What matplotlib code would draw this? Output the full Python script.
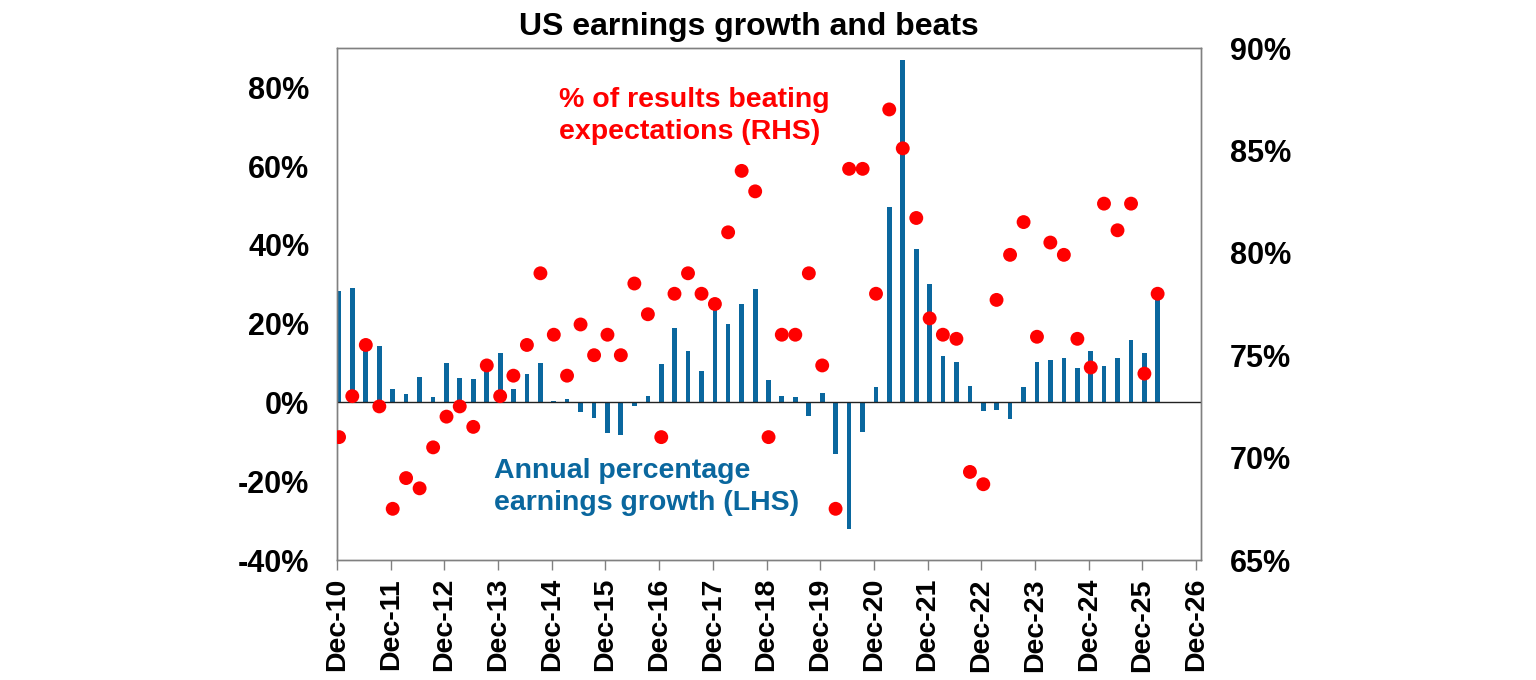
import matplotlib
matplotlib.use('Agg')
import matplotlib.pyplot as plt
import matplotlib.dates as mdates
import pandas as pd

plt.rcParams['font.family'] = ['Liberation Sans', 'DejaVu Sans']
plt.rcParams['font.weight'] = 'bold'

# quarterly data, Dec-10 to Mar-26 (plotted mid-month)
quarters = pd.date_range('2010-12-01', periods=62, freq='QS-DEC') + pd.Timedelta(days=14)

# annual % earnings growth (LHS)
growth = [28.4, 29.1, 15.0, 14.4, 3.5, 2.2, 6.4, 1.5, 10.1, 6.3,
          5.9, 8.0, 12.5, 3.5, 7.2, 10.1, 0.4, 0.9, -2.5, -4.0,
          -7.8, -8.2, -1.0, 1.6, 9.8, 19.0, 13.0, 8.0, 24.0, 19.8,
          25.0, 28.9, 5.8, 1.6, 1.5, -3.4, 2.5, -13.1, -32.1, -7.4,
          4.0, 49.7, 86.9, 38.9, 30.0, 11.7, 10.2, 4.2, -2.1, -1.9,
          -4.2, 3.9, 10.4, 10.7, 11.4, 8.8, 13.0, 9.3, 11.3, 15.8,
          12.5, 27.0]

# % of results beating expectations (RHS)
beats = [71.0, 73.0, 75.5, 72.5, 67.5, 69.0, 68.5, 70.5, 72.0, 72.5,
         71.5, 74.5, 73.0, 74.0, 75.5, 79.0, 76.0, 74.0, 76.5, 75.0,
         76.0, 75.0, 78.5, 77.0, 71.0, 78.0, 79.0, 78.0, 77.5, 81.0,
         84.0, 83.0, 71.0, 76.0, 76.0, 79.0, 74.5, 67.5, 84.1, 84.1,
         78.0, 87.0, 85.1, 81.7, 76.8, 76.0, 75.8, 69.3, 68.7, 77.7,
         79.9, 81.5, 75.9, 80.5, 79.9, 75.8, 74.4, 82.4, 81.1, 82.4,
         74.1, 78.0]

tick_dates = pd.date_range('2010-12-01', periods=17, freq='12MS')
tick_labels = [d.strftime('Dec-%y') for d in tick_dates]
left_ticks = [-40, -20, 0, 20, 40, 60, 80]
right_ticks = [65, 70, 75, 80, 85, 90]

blue = '#0A679E'
red = '#FF0000'
spine_col = '#808080'

fig = plt.figure(figsize=(15.36, 6.8), dpi=100)
ax = fig.add_axes([337/1536, 120/680, 864/1536, 512/680])
ax2 = ax.twinx()

x = mdates.date2num(quarters)
ax.bar(x, growth, width=32, color=blue, zorder=2)
ax.axhline(0, color='#222222', lw=1.0, zorder=3)
ax2.scatter(x, beats, s=100, color=red, edgecolors='none', zorder=4)

ax.set_ylim(-40, 90)
ax2.set_ylim(65, 90)
ax.set_xlim(mdates.date2num(pd.Timestamp('2010-12-01')),
            mdates.date2num(pd.Timestamp('2027-01-04')))

ax.set_yticks(left_ticks)
ax.set_yticklabels([f'{v}%' for v in left_ticks])
ax2.set_yticks(right_ticks)
ax2.set_yticklabels([f'{v}%' for v in right_ticks])
ax.set_xticks(mdates.date2num(tick_dates))
ax.set_xticklabels(tick_labels, rotation=90)

ax.tick_params(axis='y', length=0, pad=20, labelsize=22)
ax2.tick_params(axis='y', length=0, pad=21, labelsize=22)
ax.tick_params(axis='x', length=7, width=1, color=spine_col, pad=6, labelsize=20.5)

for a in (ax, ax2):
    for s in a.spines.values():
        s.set_color(spine_col)
        s.set_linewidth(1.0)

fig.text(749/1536, 1 - 27/680, 'US earnings growth and beats',
         ha='center', va='center', fontsize=23, fontweight='bold')

fig.text(559/1536, 1 - 116/680, '% of results beating\nexpectations (RHS)',
         ha='left', va='center', fontsize=20.5, fontweight='bold',
         color=red, linespacing=1.3)
fig.text(494/1536, 1 - 487/680, 'Annual percentage\nearnings growth (LHS)',
         ha='left', va='center', fontsize=20.5, fontweight='bold',
         color=blue, linespacing=1.3)

fig.savefig('out.png', dpi=100)
